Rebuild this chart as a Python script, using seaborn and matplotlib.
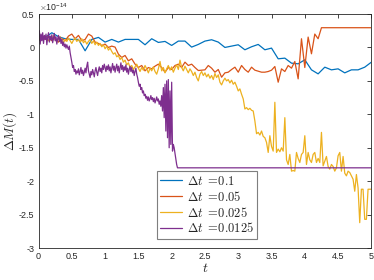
import numpy as np
import pandas as pd
import matplotlib
matplotlib.use("Agg")
import matplotlib.pyplot as plt
import seaborn as sns
from matplotlib.ticker import FuncFormatter, MultipleLocator

# ---- data (values in units of 1e-14) ----
labels = [r'$\Delta t\ {=}\!0.1$', r'$\Delta t\ {=}\!0.05$',
          r'$\Delta t\ {=}\!0.025$', r'$\Delta t\ {=}\!0.0125$']
dts = [0.1, 0.05, 0.025, 0.0125]
colors = ['#0072BD', '#D95319', '#EDB120', '#7E2F8E']

blue = [0.10, 0.15, 0.22, 0.16, 0.13, 0.12, 0.12, -0.05, 0.12, 0.15,
        0.08, 0.12, 0.08, 0.12, 0.12, 0.12, 0.04, 0.13, 0.075, 0.09,
        0.03, 0.095, 0.095, 0.005, 0.045, 0.095, 0.115, 0.08, 0.0, 0.02,
        0.04, -0.035, 0.01, 0.045, -0.035, -0.01, -0.17, -0.16, -0.235, -0.245,
        -0.185, -0.335, -0.395, -0.295, -0.335, -0.32, -0.38, -0.335, -0.335, -0.295,
        -0.22]

red = [0.10, 0.18, 0.12, 0.17, 0.10, 0.14, 0.08, 0.13, 0.10, 0.17,
       0.20, 0.13, 0.18, 0.10, 0.12, 0.20, 0.17, 0.08, 0.06, 0.03,
       0.05, 0.00, 0.02, 0.005, -0.10, -0.15, -0.12, -0.20, -0.17, -0.25,
       -0.30, -0.27, -0.35, -0.30, -0.32, -0.28, -0.25, -0.30, -0.37, -0.30,
       -0.33, -0.27, -0.25, -0.30, -0.22, -0.27, -0.25, -0.30, -0.345, -0.34,
       -0.335, -0.27, -0.31, -0.37, -0.33, -0.445, -0.38, -0.37, -0.33, -0.295,
       -0.37, -0.27, -0.33, -0.37, -0.295, -0.34, -0.355, -0.37, -0.37, -0.36,
       -0.34, -0.285, -0.52, -0.32, -0.36, -0.27, -0.31, -0.21, -0.47, 0.13,
       -0.30, 0.155, -0.095, 0.20, 0.13, 0.295, 0.295, 0.295, 0.295, 0.295,
       0.295, 0.295, 0.295, 0.295, 0.295, 0.295, 0.295, 0.295, 0.295, 0.295,
       0.295]

yellow = [0.20, 0.15, 0.18, 0.12, 0.17, 0.14, 0.10, 0.15, 0.12, 0.18,
          0.13, 0.08, 0.12, 0.16, 0.11, 0.07, 0.12, 0.09, 0.14, 0.10,
          0.06, 0.11, 0.14, 0.09, 0.12, 0.08, 0.13, 0.07, 0.10, 0.05,
          0.09, 0.12, 0.06, 0.10, 0.04, 0.08, 0.03, 0.06, 0.01, 0.04,
          -0.02, 0.02, -0.04, -0.01, -0.06, -0.10, -0.08, -0.14, -0.12, -0.18,
          -0.15, -0.22, -0.19, -0.26, -0.23, -0.30, -0.27, -0.33, -0.29, -0.25,
          -0.31, -0.36, -0.30, -0.34, -0.27, -0.32, -0.38, -0.31, -0.35, -0.29,
          -0.36, -0.40, -0.32, -0.21, -0.35, -0.30, -0.38, -0.32, -0.27, -0.34,
          -0.29, -0.37, -0.31, -0.26, -0.33, -0.19, -0.30, -0.35, -0.28, -0.33,
          -0.38, -0.32, -0.36, -0.42, -0.37, -0.45, -0.50, -0.40, -0.36, -0.42,
          -0.38, -0.44, -0.40, -0.46, -0.42, -0.48, -0.39, -0.45, -0.41, -0.52,
          -0.56, -0.50, -0.46, -0.50, -0.48, -0.53, -0.49, -0.55, -0.52, -0.58,
          -0.65, -0.62, -0.70, -0.77, -0.92, -0.90, -0.93, -0.91, -0.94, -0.95,
          -1.10, -1.29, -1.27, -1.31, -1.25, -1.33, -1.35, -1.42, -1.57, -1.32,
          -1.48, -1.55, -0.82, -1.57, -1.52, -1.56, -1.50, -1.55, -1.05, -1.68,
          -1.75, -1.60, -1.85, -1.84, -1.85, -1.57, -1.66, -1.72, -1.60, -1.57,
          -1.32, -1.75, -1.57, -1.68, -1.72, -1.60, -1.57, -1.72, -1.66, -1.72,
          -1.27, -1.77, -1.70, -1.63, -1.78, -1.82, -1.75, -1.78, -1.85, -1.80,
          -1.62, -1.57, -1.85, -1.63, -1.88, -1.92, -1.85, -1.87, -1.92, -1.97,
          -2.15, -1.90, -2.10, -2.62, -2.12, -2.12, -2.57, -2.57, -2.12, -2.12,
          -2.12]

purple_noisy = [0.15, 0.25, 0.05, 0.20, 0.10, 0.22, 0.06, 0.18,
                0.12, 0.20, 0.04, 0.15, 0.22, 0.08, 0.17, 0.11,
                0.19, 0.07, 0.14, 0.21, 0.10, 0.16, 0.05, 0.13,
                0.18, 0.09, 0.15, 0.06, 0.12, 0.03, 0.08, 0.01,
                0.05, -0.01, 0.04, 0.00, -0.03, 0.02, -0.08, -0.15,
                -0.22, -0.30, -0.27, -0.36, -0.33, -0.40, -0.35, -0.38,
                -0.32, -0.41, -0.36, -0.30, -0.39, -0.34, -0.42, -0.37,
                -0.31, -0.38, -0.28, -0.22, -0.35, -0.40, -0.45, -0.36,
                -0.41, -0.33, -0.38, -0.44, -0.35, -0.30, -0.37, -0.42,
                -0.34, -0.29, -0.36, -0.31, -0.38, -0.27, -0.33, -0.25,
                -0.30, -0.36, -0.28, -0.33, -0.26, -0.35, -0.29, -0.38,
                -0.31, -0.24, -0.34, -0.28, -0.37, -0.30, -0.25, -0.35,
                -0.28, -0.38, -0.30, -0.23, -0.33, -0.27, -0.36, -0.29,
                -0.34, -0.26, -0.37, -0.31, -0.40, -0.33, -0.28, -0.36,
                -0.30, -0.38, -0.34, -0.42, -0.36, -0.31, -0.40, -0.45,
                -0.52, -0.58, -0.55, -0.63, -0.60, -0.68, -0.65, -0.72,
                -0.70, -0.76, -0.73, -0.79, -0.74, -0.80, -0.77, -0.72,
                -0.78, -0.75, -0.81, -0.76, -0.83, -0.79, -0.74, -0.80,
                -0.77, -0.85, -0.80, -0.88, -0.72, -0.95, -0.60, -1.05,
                -0.55, -1.25, -0.50, -1.35, -0.48, -1.50, -0.65, -1.45,
                -0.52, -1.55, -1.45, -1.50, -1.58, -1.65, -1.75, -1.80]
purple_flat_value = -1.80
purple = purple_noisy + [purple_flat_value] * (401 - len(purple_noisy))

series = [blue, red, yellow, purple]

# ---- style ----
sns.set_style("white")
plt.rcParams['font.family'] = ['Liberation Sans', 'DejaVu Sans']
plt.rcParams['mathtext.fontset'] = 'cm'

fig = plt.figure(figsize=(3.74, 2.80), dpi=100)
ax = fig.add_axes([0.103, 0.114, 0.890, 0.836])

for lab, dt, col, vals in zip(labels, dts, colors, series):
    t = np.arange(len(vals)) * dt
    df = pd.DataFrame({'t': t, 'v': vals})
    sns.lineplot(data=df, x='t', y='v', ax=ax, color=col, lw=0.9,
                 label=lab, estimator=None, sort=False)

ax.set_xlim(0, 5)
ax.set_ylim(-3, 0.5)
ax.xaxis.set_major_locator(MultipleLocator(0.5))
ax.yaxis.set_major_locator(MultipleLocator(0.5))
fmt = FuncFormatter(lambda v, p: ('%g' % v).replace('\u2212', '-'))
ax.xaxis.set_major_formatter(fmt)
ax.yaxis.set_major_formatter(fmt)
ax.tick_params(direction='in', length=3, width=0.6, labelsize=6.5,
               colors='#262626', top=True, right=True, pad=3)
for s in ax.spines.values():
    s.set_color('#262626')
    s.set_linewidth(0.6)

ax.set_xlabel(r'$t$', fontsize=10, labelpad=0)
ax.set_ylabel(r'$\Delta M(t)$', fontsize=9.5, labelpad=0)
ax.text(0.0, 1.005, r'$\times\mathregular{10}^{\mathregular{-14}}$', transform=ax.transAxes,
        fontsize=6.3, ha='left', va='bottom', color='#262626')

leg = ax.legend(loc='lower left', bbox_to_anchor=(0.355, 0.038), fontsize=9,
                frameon=True, fancybox=False, framealpha=1, edgecolor='#7f7f7f',
                handlelength=1.7, handletextpad=0.4, borderpad=0.3,
                labelspacing=0.15, borderaxespad=0)
leg.get_frame().set_linewidth(0.8)

fig.savefig('out.png', dpi=100)
